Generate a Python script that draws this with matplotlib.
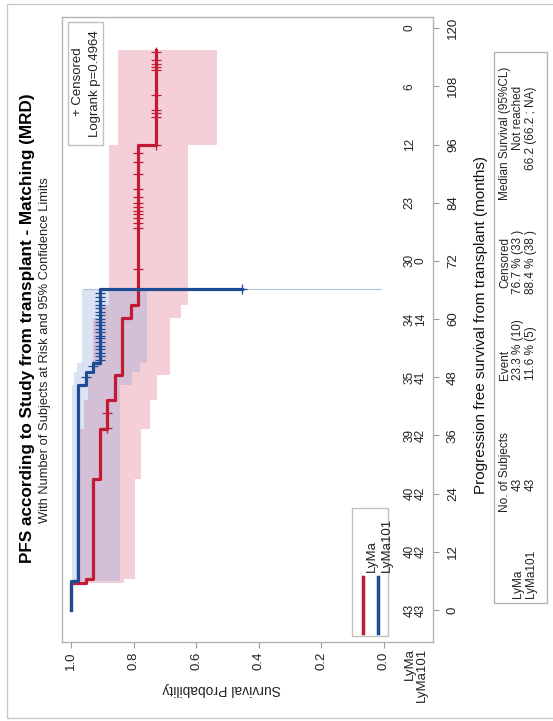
import matplotlib.pyplot as plt
from matplotlib.patches import Rectangle

plt.rcParams['font.family'] = ['Liberation Sans', 'DejaVu Sans']

# Kaplan-Meier steps (months, survival) for each arm
lyma_t = [0, 5.6, 6.4, 27.0, 37.3, 43.3, 48.5, 60.3, 63.0, 96.0]
lyma_s = [1.0, 0.953, 0.930, 0.907, 0.884, 0.860, 0.837, 0.810, 0.786, 0.730]
lyma_lo = [1.0, 0.830, 0.795, 0.775, 0.748, 0.725, 0.684, 0.650, 0.626, 0.534]
lyma_hi = [1.0, 0.990, 0.985, 0.975, 0.960, 0.945, 0.930, 0.905, 0.879, 0.850]
lyma_end = 115.5
lyma_cens = [37.5, 40.6, 70.3, 78.8, 79.8, 80.8, 81.6, 82.3, 83.1, 84.0, 85.2,
             86.8, 89.9, 92.4, 94.2, 96.0, 101.7, 102.4, 103.1, 106.2, 111.3,
             112.0, 112.7, 113.4, 115.1]

ly101_t = [0, 6.0, 46.4, 49.0, 51.0, 66.2]
ly101_s = [1.0, 0.977, 0.953, 0.930, 0.906, 0.453]
ly101_lo = [1.0, 0.845, 0.805, 0.780, 0.757, 0.010]
ly101_hi = [1.0, 0.997, 0.990, 0.980, 0.965, 0.960]
ly101_cens = [48.0, 50.3, 51.5, 52.3, 53.0, 53.8, 54.5, 55.2, 56.0, 56.6, 57.3,
              58.0, 58.7, 59.4, 60.0, 60.8, 61.5, 62.2, 63.0, 63.8, 64.5, 65.3, 66.2]

# number at risk
risk_times = [0, 12, 24, 36, 48, 60, 72, 84, 96, 108, 120]
risk_lyma = [43, 40, 40, 39, 35, 34, 30, 23, 12, 6, 0]
risk_ly101 = [43, 42, 42, 42, 41, 14, 0]

red = '#C21A35'
blue = '#1E4C92'


def step_value(times, vals, t):
    v = vals[0]
    for ti, vi in zip(times, vals):
        if ti <= t:
            v = vi
    return v


W, H = 553, 721
fig = plt.figure(figsize=(W / 100, H / 100), dpi=100)
ax = fig.add_axes([62 / W, 1 - 642 / H, 371 / W, 625 / H])

# confidence bands
ax.fill_betweenx(lyma_t + [lyma_end], lyma_lo + [lyma_lo[-1]], lyma_hi + [lyma_hi[-1]],
                 step='post', color='#E47C93', alpha=0.36, lw=0)
ax.fill_betweenx(ly101_t, ly101_lo, ly101_hi, step='post',
                 color='#7D9BD6', alpha=0.28, lw=0)
ax.plot([ly101_hi[-1], ly101_lo[-1]], [ly101_t[-1], ly101_t[-1]],
        color='#B3C2DC', lw=0.8)

# survival curves
ax.plot(lyma_s + [lyma_s[-1]], lyma_t + [lyma_end], drawstyle='steps-pre',
        color=red, lw=2.3)
ax.plot(ly101_s, ly101_t, drawstyle='steps-pre', color=blue, lw=2.3)

# censored marks
ax.plot([step_value(lyma_t, lyma_s, t) for t in lyma_cens], lyma_cens, ls='none',
        marker='+', ms=7, mew=0.9, color=red)
ax.plot([step_value(ly101_t, ly101_s, t) for t in ly101_cens], ly101_cens, ls='none',
        marker='+', ms=7, mew=0.9, color=blue)

ax.set_xlim(1.029, -0.157)
ax.set_ylim(-6.6, 122.3)

ax.set_xticks([0.0, 0.2, 0.4, 0.6, 0.8, 1.0])
ax.set_xticklabels(['0.0', '0.2', '0.4', '0.6', '0.8', '1.0'], rotation=90)
ax.yaxis.tick_right()
ax.set_yticks(risk_times)
ax.set_yticklabels([str(t) for t in risk_times], rotation=90, va='center')
ax.tick_params(axis='both', direction='out', length=4, color='#9A9A9A',
               labelsize=9.5, labelcolor='#222222')
ax.tick_params(axis='x', pad=3)
ax.tick_params(axis='y', pad=6)
for sp in ax.spines.values():
    sp.set_color('#B4B4B4')
    sp.set_linewidth(1)

# number at risk rows
for t, n in zip(risk_times, risk_lyma):
    ax.text(-0.083, t, str(n), rotation=90, ha='center', va='center', fontsize=8.5,
            color='#222222')
for t, n in zip(risk_times, risk_ly101):
    ax.text(-0.118, t, str(n), rotation=90, ha='center', va='center', fontsize=8.5,
            color='#222222')
ax.text(-0.083, -7.8, 'LyMa', rotation=90, ha='center', va='top', fontsize=9.5,
        color='#222222')
ax.text(-0.121, -7.8, 'LyMa101', rotation=90, ha='center', va='top', fontsize=9.5,
        color='#222222')

# group legend
ax.add_patch(Rectangle((-0.013, -5.4), 0.115, 26.4, fill=False, ec='#C0C0C0', lw=1))
ax.plot([0.067, 0.067], [-4.7, 6.8], color=red, lw=2.5)
ax.plot([0.019, 0.019], [-4.7, 6.8], color=blue, lw=2.5)
ax.text(0.067 - 0.03, 7.8, 'LyMa', rotation=90, ha='center', va='bottom', fontsize=9.5,
        color='#222222')
ax.text(0.019 - 0.03, 7.8, 'LyMa101', rotation=90, ha='center', va='bottom',
        fontsize=9.5, color='#222222')

# censor / logrank inset
ax.add_patch(Rectangle((0.898, 95.9), 0.112, 25.3, fill=True, fc='white',
                       ec='#C0C0C0', lw=1, zorder=3))
ax.text(0.978, 109.0, '+ Censored', rotation=90, ha='center', va='center',
        fontsize=9.5, color='#222222', zorder=4)
ax.text(0.925, 108.6, 'Logrank p=0.4964', rotation=90, ha='center', va='center',
        fontsize=9.5, color='#222222', zorder=4)

ax.text(0.52, -16.2, 'Survival Probability', rotation=180, ha='center', va='center',
        fontsize=10, color='#222222')


# titles and axis label in figure space
def fx(x):
    return x / W


def fy(y):
    return 1 - y / H


fig.text(fx(28), fy(328), 'PFS according to Study from transplant - Matching (MRD)',
         rotation=90, ha='center', va='center', fontsize=12.3, fontweight='bold')
fig.text(fx(45), fy(350), 'With Number of Subjects at Risk and 95% Confidence Limits',
         rotation=90, ha='center', va='center', fontsize=9.3, color='#222222')
fig.text(fx(481), fy(325), 'Progression free survival from transplant (months)',
         rotation=90, ha='center', va='center', fontsize=11, color='#111111')

# summary table
fig.add_artist(Rectangle((fx(494), fy(603)), 53 / W, 551 / H, transform=fig.transFigure,
                         fill=False, ec='#B4B4B4', lw=1))
tk = dict(rotation=90, ha='center', fontsize=8.5, color='#222222')
fig.text(fx(505), fy(512), 'No. of Subjects', va='bottom', **tk)
fig.text(fx(505), fy(380), 'Event', va='bottom', **tk)
fig.text(fx(505), fy(262), 'Censored', va='center', **tk)
fig.text(fx(505), fy(133), 'Median Survival (95%CL)', va='center', **tk)
rows = [('LyMa', '43', '23.3 % (10)', '76.7 % (33 )', 'Not reached'),
        ('LyMa101', '43', '11.6 % (5)', '88.4 % (38 )', '66.2 (66.2 ; NA)')]
for xr, row in zip([518, 531], rows):
    fig.text(fx(xr), fy(598), row[0], va='bottom', **tk)
    fig.text(fx(xr), fy(478), row[1], va='top', **tk)
    fig.text(fx(xr), fy(380), row[2], va='bottom', **tk)
    fig.text(fx(xr), fy(262), row[3], va='center', **tk)
    fig.text(fx(xr), fy(86), row[4], va='top', **tk)

# outer frame
fig.add_artist(Rectangle((fx(7), fy(718)), 600 / W, 714 / H, transform=fig.transFigure,
                         fill=False, ec='#C8C8C8', lw=1))

fig.savefig('out.png', dpi=100)
